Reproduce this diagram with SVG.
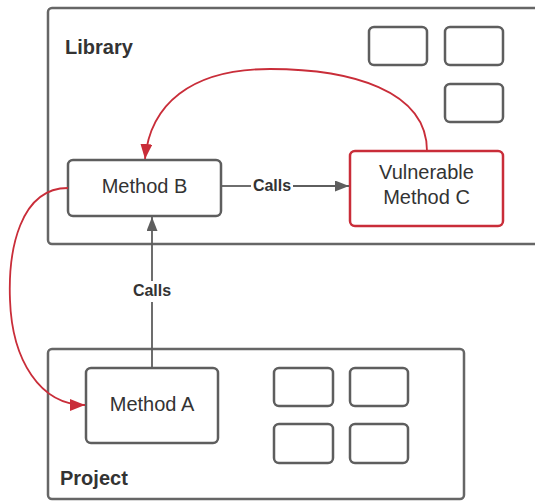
<svg xmlns="http://www.w3.org/2000/svg" width="535" height="502" viewBox="0 0 535 502">
  <defs>
    <style>
      .frame { fill: #ffffff; stroke: #666666; stroke-width: 2.5; }
      .box { fill: #ffffff; stroke: #5e5e5e; stroke-width: 2.5; }
      .vuln { fill: #ffffff; stroke: #c92d39; stroke-width: 2.5; }
      .title { font-family: "Liberation Sans", Arial, sans-serif; font-size: 20px; font-weight: bold; fill: #333333; }
      .label { font-family: "Liberation Sans", Arial, sans-serif; font-size: 20px; fill: #333333; text-anchor: middle; }
      .edge-label { font-family: "Liberation Sans", Arial, sans-serif; font-size: 16px; font-weight: bold; fill: #333333; text-anchor: middle; }
      .call { fill: none; stroke: #5e5e5e; stroke-width: 1.8; }
      .flow { fill: none; stroke: #c92d39; stroke-width: 1.8; }
    </style>
    <marker id="arrow-gray" viewBox="0 0 10 10" refX="10" refY="5" markerWidth="14" markerHeight="11" markerUnits="userSpaceOnUse" orient="auto" preserveAspectRatio="none">
      <path d="M0,0 L10,5 L0,10 Z" fill="#5e5e5e"/>
    </marker>
    <marker id="arrow-red" viewBox="0 0 10 10" refX="10" refY="5" markerWidth="15" markerHeight="12" markerUnits="userSpaceOnUse" orient="auto" preserveAspectRatio="none">
      <path d="M0,0 L10,5 L0,10 Z" fill="#c92d39"/>
    </marker>
  </defs>

  <rect width="535" height="502" fill="#ffffff"/>

  <!-- Library container (runs past the right edge) -->
  <g id="library">
    <rect class="frame" x="48" y="8" width="500" height="236" rx="4"/>
    <text class="title" x="65" y="54">Library</text>
    <rect class="box" x="369" y="27" width="58" height="38" rx="5"/>
    <rect class="box" x="445" y="27" width="58" height="38" rx="5"/>
    <rect class="box" x="445" y="84" width="58" height="38" rx="5"/>
  </g>

  <!-- Project container -->
  <g id="project">
    <rect class="frame" x="48" y="349" width="416" height="150" rx="4"/>
    <text class="title" x="60" y="485">Project</text>
    <rect class="box" x="274" y="368" width="59" height="38" rx="5"/>
    <rect class="box" x="350" y="368" width="58" height="38" rx="5"/>
    <rect class="box" x="274" y="424" width="59" height="39" rx="5"/>
    <rect class="box" x="350" y="424" width="58" height="39" rx="5"/>
  </g>

  <g id="method-b">
    <rect class="box" x="68" y="160" width="153" height="56" rx="5"/>
    <text class="label" x="144.5" y="193">Method B</text>
  </g>

  <g id="method-c">
    <rect class="vuln" x="350" y="151" width="153" height="75" rx="5"/>
    <text class="label" x="426.5" y="179">Vulnerable</text>
    <text class="label" x="426.5" y="204">Method C</text>
  </g>

  <g id="method-a">
    <rect class="box" x="86" y="368" width="132" height="75" rx="5"/>
    <text class="label" x="152" y="411">Method A</text>
  </g>

  <g id="connectors">
    <!-- A calls B -->
    <path class="call" d="M152,368 L152,302"/>
    <path class="call" d="M152,281 L152,217" marker-end="url(#arrow-gray)"/>
    <text class="edge-label" x="152" y="296">Calls</text>
    <!-- B calls C -->
    <path class="call" d="M221,186 L251,186"/>
    <path class="call" d="M293,186 L349,186" marker-end="url(#arrow-gray)"/>
    <text class="edge-label" x="272" y="191">Calls</text>
    <!-- vulnerable path back to B -->
    <path class="flow" d="M427,151 C427,90 350,69 270,69 C190,69 150,105 145,159" marker-end="url(#arrow-red)"/>
    <!-- path from B down to A -->
    <path class="flow" d="M68,188 C20,188 8,250 10,300 C12,360 40,405 85,405" marker-end="url(#arrow-red)"/>
  </g>
</svg>
